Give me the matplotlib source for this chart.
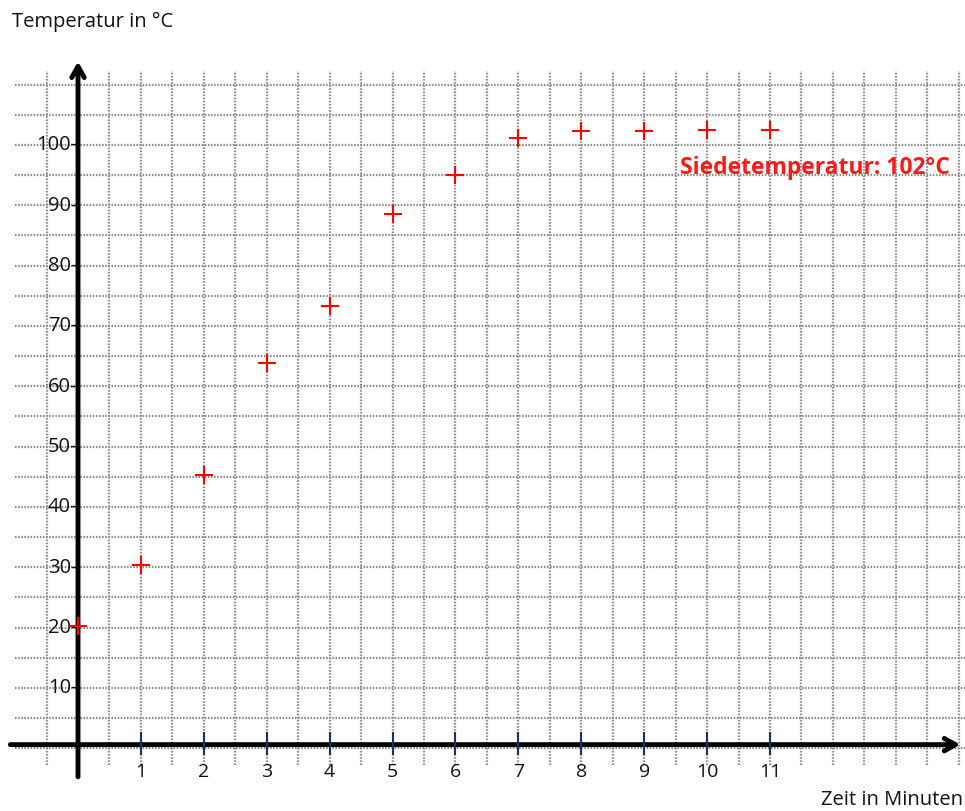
import numpy as np
import matplotlib
matplotlib.use("Agg")
import matplotlib.pyplot as plt

# Data
minutes = [0, 1, 2, 3, 4, 5, 6, 7, 8, 9, 10, 11]
temps = [20, 30, 45, 63.5, 73, 88.3, 94.7, 100.8, 102, 102, 102.2, 102.2]
x_tick_vals = [1, 2, 3, 4, 5, 6, 7, 8, 9, 10, 11]
y_tick_vals = [10, 20, 30, 40, 50, 60, 70, 80, 90, 100]

plt.rcParams['font.family'] = ['Open Sans', 'DejaVu Sans']

fig = plt.figure(figsize=(9.65, 8.12), dpi=100)
ax = fig.add_axes([0, 0, 1, 1])
ax.set_xlim(-1.24, 14.1)
ax.set_ylim(-10.7, 123.9)
ax.axis('off')

# grid
for gx in np.arange(-0.5, 14.01, 0.5):
    ax.plot([gx, gx], [-3, 112], color='#8a8a8a', lw=1.6, ls=(0, (0.7, 0.7)), zorder=1)
for gy in np.arange(0, 111, 5):
    ax.plot([-1.0, 14.1], [gy - 0.3, gy - 0.3], color='#8a8a8a', lw=1.6, ls=(0, (0.7, 0.7)), zorder=1)

# axes with arrows
ax.annotate('', xy=(14.07, 0.3), xytext=(-1.12, 0.3),
            arrowprops=dict(arrowstyle='->,head_length=0.8,head_width=0.45', lw=3.5, color='black'), zorder=3)
ax.annotate('', xy=(0, 114), xytext=(0, -5.5),
            arrowprops=dict(arrowstyle='->,head_length=0.8,head_width=0.45', lw=3.5, color='black'), zorder=3)

# x ticks
for xv in x_tick_vals:
    ax.plot([xv, xv], [-1.2, 2.3], color='#1f2f5f', lw=1.5, zorder=4)
    ax.text(xv, -2.6, str(xv), ha='center', va='top', fontsize=14, color='#111111', zorder=4)

# y tick labels
for yv in y_tick_vals:
    ax.text(-0.01, yv - 0.2, f"{yv}-", ha='right', va='center', fontsize=14.5, color='#111111', zorder=4)

# data markers
ax.plot(minutes, temps, ls='none', marker='+', markersize=13, markeredgewidth=1.5, color='#ff0000', zorder=5)

# texts
fig.text(12/965, 1 - 22/812, 'Temperatur in °C', ha='left', va='center', fontsize=14.5, color='#111111')
fig.text(963/965, 1 - 800/812, 'Zeit in Minuten', ha='right', va='center', fontsize=14.5, color='#111111')
ax.text(13.86, 96.0, 'Siedetemperatur: 102°C', ha='right', va='center', fontsize=16.5,
        fontweight='bold', color='#ff1a1a', zorder=5)

fig.savefig('out.png', dpi=100, facecolor='white')
